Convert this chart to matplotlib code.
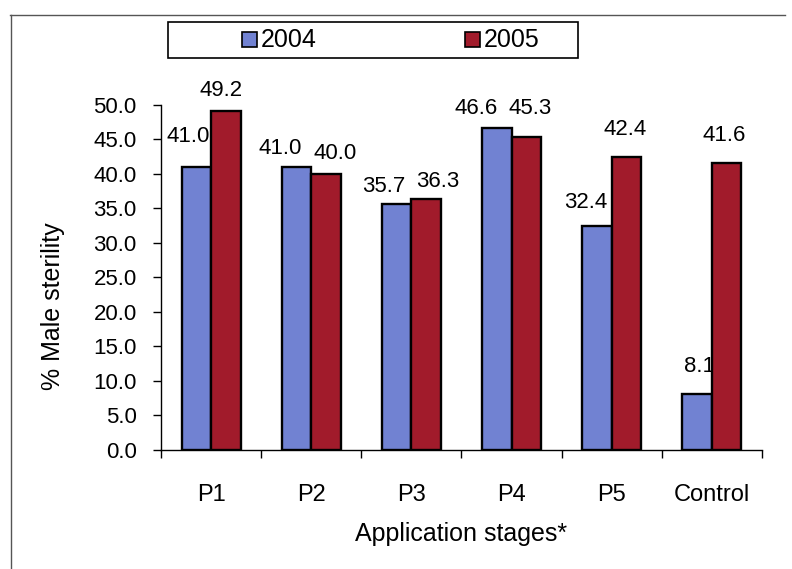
import matplotlib.pyplot as plt
import numpy as np
from matplotlib.lines import Line2D
from matplotlib.patches import Rectangle

plt.rcParams['font.family'] = ['Liberation Sans', 'DejaVu Sans']

categories = ["P1", "P2", "P3", "P4", "P5", "Control"]
series_names = ["2004", "2005"]
values_2004 = [41.0, 41.0, 35.7, 46.6, 32.4, 8.1]
values_2005 = [49.2, 40.0, 36.3, 45.3, 42.4, 41.6]
y_ticks = [0, 5, 10, 15, 20, 25, 30, 35, 40, 45, 50]

colors = ["#7182d2", "#a11b2b"]

# hand-placed value labels: (dx, dy) in pixels from the top centre of each bar
label_offsets = [
    [(-8, 20), (-16, 8), (-13, 7), (-21, 9), (-11, 13), (2, 17)],
    [(-5, 10), (9, 10), (12, 7), (4, 18), (-1, 17), (-2, 17)],
]

W, H = 792, 569
fig = plt.figure(figsize=(W / 100, H / 100), dpi=100)
ax = fig.add_axes([161 / W, 1 - 449.5 / H, (762 - 161) / W, (449.5 - 105) / H])

x = np.arange(len(categories))
w = 0.294
bars = []
for i, (vals, col) in enumerate(zip([values_2004, values_2005], colors)):
    xs = x + (i - 0.5) * w
    b = ax.bar(xs, vals, width=w, color=col, edgecolor="black",
               linewidth=1.7, zorder=3)
    bars.append(b)
    for xi, v, (dx, dy) in zip(xs, vals, label_offsets[i]):
        ax.annotate(f"{v:.1f}", (xi, v), xytext=(dx, dy), textcoords="offset pixels",
                    ha="center", va="bottom", fontsize=16, zorder=2,
                    annotation_clip=False)

ax.set_xlim(-0.5, len(categories) - 0.5)
ax.set_ylim(0, 50)
ax.set_yticks(y_ticks)
ax.set_yticklabels([f"{t:.1f}" for t in y_ticks], fontsize=16)
ax.set_xticks(x)
ax.set_xticklabels(categories, fontsize=17)
ax.tick_params(axis="x", length=0, pad=25)
ax.set_xticks(np.arange(len(categories) + 1) - 0.5, minor=True)
ax.tick_params(axis="x", which="minor", length=5.5, direction="out", width=1)
ax.tick_params(axis="y", length=5.5, direction="out", width=1, pad=12)
ax.spines["top"].set_visible(False)
ax.spines["right"].set_visible(False)
ax.spines["left"].set_linewidth(1)
ax.spines["bottom"].set_linewidth(1)

ax.set_ylabel("% Male sterility", fontsize=18)
ax.yaxis.set_label_coords(-0.16, 0.417)
ax.set_xlabel("Application stages*", fontsize=18, labelpad=11)

# legend box with two entries
fig.add_artist(Rectangle((168 / W, 1 - 58 / H), (578 - 168) / W, 36 / H,
                         transform=fig.transFigure, facecolor="white",
                         edgecolor="black", lw=1.2))
for (sx, tx), col, name in zip([(242, 261), (465, 484)], colors, series_names):
    fig.add_artist(Rectangle((sx / W, 1 - 47 / H), 15 / W, 15 / H,
                             transform=fig.transFigure, facecolor=col,
                             edgecolor="black", lw=1.2))
    fig.text(tx / W, 1 - 40 / H, name, ha="left", va="center", fontsize=18)

# outer frame lines along top and left
fig.add_artist(Line2D([10 / W, 785 / W], [1 - 15 / H, 1 - 15 / H], color="#555555", lw=1))
fig.add_artist(Line2D([11 / W, 11 / W], [1 - 15 / H, 0], color="#555555", lw=1))

fig.savefig("out.png", dpi=100, facecolor="white")
